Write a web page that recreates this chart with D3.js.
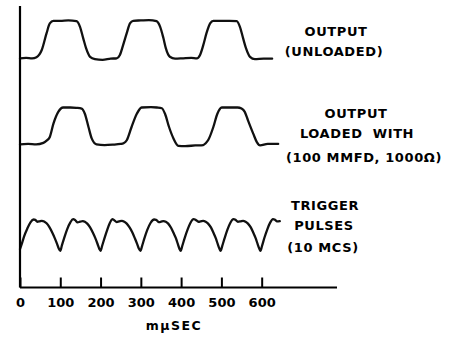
<!DOCTYPE html>
<html>
<head>
<meta charset="utf-8">
<script src="https://cdn.jsdelivr.net/npm/d3@7"></script>
<style>
html,body{margin:0;padding:0;background:#fff;}
svg{display:block;}
text{font-family:"DejaVu Sans",sans-serif;font-weight:bold;fill:#000;}
</style>
</head>
<body>
<svg id="chart" width="451" height="341"></svg>
<script>
// ---- data (time in mμSEC, amplitude normalised 0 = low level, 1 = high level) ----
const tickValues = [0, 100, 200, 300, 400, 500, 600];
const tickLabels = ["0", "100", "200", "300", "400", "500", "600"];
const axisEnd = 787;
const xTitle = "mμSEC";

const unloadedT = [0,15,30,41,54,66,74,83,100,120,140,149,157,164,174,186,205,225,240,248,256,265,273,281,300,320,339,348,356,362,372,385,405,425,439,447,455,463,472,480,500,520,538,546,554,561,571,583,605,626];
const unloadedV = [0,0.01,0,0.03,0.22,0.67,0.93,1,1,1.01,0.99,0.84,0.53,0.27,0.04,-0.02,-0.04,-0.01,0,0.09,0.35,0.67,0.93,1,1.01,1.02,0.99,0.84,0.54,0.27,0.04,-0.01,0,0.01,0,0.09,0.35,0.67,0.93,1,1,1,0.99,0.84,0.53,0.27,0.04,-0.02,-0.01,-0.01];

const loadedT = [0,20,40,58,66,74,83,95,107,125,140,153,161,170,178,190,210,230,250,257,265,277,290,302,325,340,352,360,370,381,393,410,435,455,461,468,480,490,501,520,540,550,558,566,579,588,596,615,641];
const loadedV = [0,0.01,0,0.04,0.1,0.2,0.56,0.88,1,1,0.99,0.97,0.83,0.47,0.16,0,-0.02,-0.01,0.01,0.03,0.11,0.47,0.83,1,1.01,1,0.98,0.83,0.47,0.16,-0.04,-0.05,-0.03,-0.02,0.03,0.13,0.47,0.83,1,1,1,0.97,0.88,0.65,0.29,0.06,-0.03,0.01,0.01];

const triggerT = [0,4,10,18,26,34,38,43,48,54,60,66,73,80,86,92,96,100,
  104,110,117,125,132,137,143,149,156,161,167,174,181,187,193,197,200,
  204,210,217,223,229,234,240,246,253,259,265,272,279,285,291,295,299,
  303,309,316,324,333,338,345,350,356,362,368,375,381,387,392,396,399,
  403,409,416,423,431,436,443,448,455,461,467,474,480,486,491,495,498,
  502,508,515,522,530,535,541,547,554,560,566,573,579,585,590,594,597,
  601,607,614,621,628,633,638,645];
const triggerV = [0.05,0.2,0.45,0.7,0.9,0.99,0.98,0.92,0.93,0.95,0.93,0.87,0.75,0.58,0.41,0.22,0.08,0,
  0.17,0.42,0.68,0.9,1,0.97,0.9,0.92,0.94,0.92,0.86,0.74,0.57,0.4,0.2,0.06,0,
  0.16,0.41,0.68,0.88,1,0.97,0.91,0.93,0.95,0.92,0.86,0.74,0.58,0.4,0.21,0.07,0,
  0.15,0.4,0.66,0.88,0.99,0.98,0.91,0.92,0.94,0.92,0.86,0.73,0.57,0.4,0.21,0.06,0,
  0.16,0.41,0.67,0.88,1,0.98,0.92,0.93,0.95,0.92,0.86,0.74,0.58,0.4,0.21,0.07,0,
  0.15,0.4,0.67,0.88,1,0.98,0.92,0.93,0.95,0.92,0.86,0.74,0.58,0.4,0.21,0.07,0,
  0.16,0.42,0.68,0.89,1,0.98,0.93,0.94];

const labelUnloaded = ["OUTPUT", "(UNLOADED)"];
const labelLoaded = ["OUTPUT", "LOADED  WITH", "(100 MMFD, 1000Ω)"];
const labelTrigger = ["TRIGGER", "PULSES", "(10 MCS)"];

// ---- layout ----
const svg = d3.select("#chart");
const x = d3.scaleLinear().domain([0, axisEnd]).range([20, 337]);
const yAxisScale = d3.scaleLinear().domain([0, 1]).range([287.5, 6]);

const traces = [
  {t: unloadedT, v: unloadedV, range: [58.3, 20.8]},
  {t: loadedT, v: loadedV, range: [144.3, 107.5]},
  {t: triggerT, v: triggerV, range: [250.8, 219.2]}
];

traces.forEach(tr => {
  const y = d3.scaleLinear().domain([0, 1]).range(tr.range);
  const pts = tr.t.map((t, i) => [t, tr.v[i]]);
  const line = d3.line().x(d => x(d[0])).y(d => y(d[1])).curve(d3.curveMonotoneX);
  svg.append("path").attr("d", line(pts))
    .attr("fill", "none").attr("stroke", "#111").attr("stroke-width", 2.3)
    .attr("stroke-linejoin", "round").attr("stroke-linecap", "round");
});

// vertical axis line
svg.append("line")
  .attr("x1", x(0)).attr("x2", x(0))
  .attr("y1", yAxisScale(1)).attr("y2", yAxisScale(0))
  .attr("stroke", "#000").attr("stroke-width", 2.2);

// bottom axis
const axis = d3.axisBottom(x).tickValues(tickValues)
  .tickFormat((d, i) => tickLabels[i]).tickSizeInner(-10).tickSizeOuter(0).tickPadding(10);
const g = svg.append("g").attr("transform", `translate(0,${yAxisScale(0)})`).call(axis);
g.select(".domain").attr("stroke", "#000").attr("stroke-width", 2.2).attr("d", `M${x(0)},0H${x(axisEnd)}`);
g.selectAll(".tick line").attr("stroke", "#000").attr("stroke-width", 2);
g.selectAll(".tick text").attr("font-size", 13).attr("font-family", "DejaVu Sans").attr("font-weight", "bold").attr("fill", "#000");

svg.append("text").attr("x", 174).attr("y", 330).attr("text-anchor", "middle")
  .attr("font-size", 12.5).attr("letter-spacing", 1.5).text(xTitle);

// right labels
function addLabel(lines, cx, baselines) {
  lines.forEach((s, i) => {
    svg.append("text").attr("x", cx[i]).attr("y", baselines[i])
      .attr("text-anchor", "middle").attr("font-size", 13).attr("letter-spacing", 0.6)
      .attr("xml:space", "preserve").style("white-space", "pre").text(s);
  });
}
addLabel(labelUnloaded, [336, 334], [36, 56]);
addLabel(labelLoaded, [356, 357, 364], [118.3, 138.3, 161.7]);
addLabel(labelTrigger, [325, 324, 323], [210, 230, 251.7]);
</script>
</body>
</html>
